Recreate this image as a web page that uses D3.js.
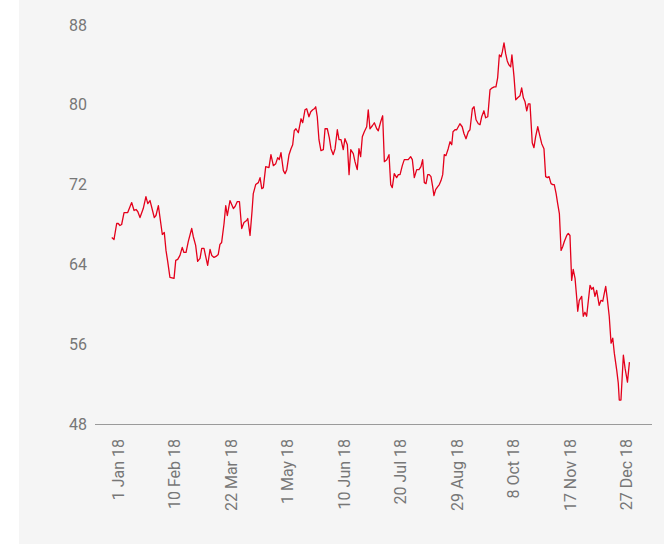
<!DOCTYPE html>
<html>
<head>
<meta charset="utf-8">
<script src="https://cdn.jsdelivr.net/npm/d3@7"></script>
<style>
  body { margin: 0; background: #fff; }
  svg { display: block; font-family: Roboto, sans-serif; }
</style>
</head>
<body>
<svg></svg>
<script>
// days since 1 Jan 2018
const days = [-2.3, -0.7, 1.2, 2.3, 3.5, 4.7, 6.4, 9.0, 11.8, 13.5, 14.9, 16.1, 17.7, 20.0, 21.9, 23.2, 24.8, 27.8, 29.0, 30.7,
  33.5, 34.9, 36.1, 37.3, 38.9, 41.8, 43.0, 44.4, 46.0, 47.6, 48.8, 50.3, 51.9, 54.3, 55.4, 57.1, 58.5, 60.2, 61.4, 63.0,
  64.2, 65.6, 67.3, 68.5, 70.1, 71.5, 73.1, 74.3, 75.5, 77.2, 78.4, 79.5, 81.4, 83.8, 85.0, 86.6, 88.1, 89.7, 91.3, 93.2,
  94.0, 95.6, 97.0, 97.9, 99.6, 101.5, 102.7, 103.9, 105.0, 106.7, 109.0, 110.4, 112.1, 113.8, 115.2, 116.3, 117.5, 119.2, 120.4, 121.6,
  123.2, 124.6, 125.8, 126.9, 128.1, 129.8, 131.7, 132.9, 134.5, 135.7, 137.3, 138.6, 140.0, 141.1, 142.1, 143.2, 144.4, 145.8, 147.5, 148.7,
  150.3, 151.7, 152.9, 154.5, 155.8, 157.4, 158.6, 160.0, 161.6, 162.8, 164.5, 165.7, 166.9, 168.7, 169.9, 171.5, 172.7, 173.9, 175.1, 176.5,
  178.2, 179.3, 180.5, 182.2, 183.6, 185.3, 186.4, 188.1, 189.5, 190.7, 192.4, 194.0, 195.2, 196.3, 197.7, 199.4, 200.6, 201.8, 203.4, 204.8,
  206.0, 207.6, 209.3, 210.5, 211.9, 213.6, 215.2, 216.6, 217.8, 219.0, 220.2, 221.4, 222.5, 223.7, 224.9, 225.8, 227.0, 228.5, 229.6, 230.8,
  232.0, 233.1, 234.3, 235.9, 237.2, 238.4, 239.3, 240.7, 241.9, 244.2, 245.8, 247.1, 248.5, 250.1, 251.3, 253.0, 254.2, 255.6, 257.2, 258.4,
  259.6, 261.2, 262.4, 263.9, 265.5, 267.1, 268.5, 269.7, 270.9, 272.1, 273.3, 274.2, 275.4, 276.6, 277.7, 278.9, 280.1, 281.0, 282.5, 283.7,
  285.1, 286.7, 287.9, 289.1, 290.3, 291.5, 292.6, 293.8, 295.4, 296.6, 297.8, 299.3, 300.4, 302.1, 303.7, 304.9, 306.1, 307.3, 308.7, 309.9,
  311.0, 312.3, 313.4, 314.6, 315.8, 317.0, 318.1, 319.8, 320.9, 322.1, 323.3, 324.4, 325.7, 326.9, 327.6, 328.7, 330.4, 331.5, 332.7, 333.9,
  336.3, 337.5, 338.6, 339.8, 341.0, 342.8, 344.1, 345.3, 346.4, 347.4, 348.5, 349.9, 351.2, 352.4, 353.5, 355.2, 356.3, 357.0, 358.2, 359.9,
  361.1, 362.8, 364.2];

const prices = [66.7, 66.5, 68.1, 68.1, 67.9, 68.0, 69.2, 69.2, 70.2, 69.4, 69.5, 69.3, 68.7, 69.6, 70.8, 70.1, 70.4, 68.7, 68.9, 69.9,
  67.0, 67.2, 65.4, 64.3, 62.7, 62.6, 64.4, 64.5, 64.9, 65.7, 65.2, 65.2, 66.3, 67.6, 66.8, 65.9, 64.3, 64.6, 65.6, 65.6,
  64.8, 63.9, 65.5, 64.9, 64.7, 64.8, 65.0, 66.0, 66.2, 68.1, 69.9, 68.9, 70.4, 69.6, 69.8, 70.3, 70.3, 67.6, 68.2, 68.4,
  68.6, 66.9, 69.3, 71.1, 72.0, 72.2, 72.7, 71.6, 71.7, 73.8, 73.7, 75.0, 73.9, 74.1, 74.7, 74.5, 75.2, 73.4, 73.1, 73.5,
  75.0, 75.6, 76.0, 77.4, 77.6, 77.2, 78.6, 78.2, 79.5, 79.6, 78.8, 79.3, 79.5, 79.6, 79.8, 78.8, 76.5, 75.4, 75.5, 77.6,
  77.6, 76.7, 75.6, 75.0, 75.6, 77.5, 76.5, 76.5, 75.5, 76.6, 76.0, 73.0, 75.5, 75.1, 74.3, 73.5, 75.6, 74.8, 76.8, 77.3,
  77.8, 79.5, 77.6, 77.9, 78.2, 77.6, 77.4, 78.3, 78.9, 74.3, 74.5, 75.0, 72.0, 71.7, 73.1, 72.7, 73.0, 73.0, 73.9, 74.5,
  74.5, 74.5, 74.8, 74.5, 72.7, 73.5, 73.5, 73.8, 74.5, 72.2, 72.1, 73.0, 73.0, 72.8, 71.8, 70.9, 71.5, 71.8, 72.0, 72.4,
  73.0, 75.0, 74.9, 75.6, 76.3, 76.0, 77.3, 77.5, 77.5, 78.1, 77.8, 77.1, 76.6, 77.3, 77.5, 79.6, 79.8, 78.5, 78.1, 78.0,
  78.8, 79.4, 78.7, 78.8, 81.5, 81.7, 81.8, 81.8, 82.7, 85.0, 84.8, 85.3, 86.2, 85.1, 84.4, 84.0, 83.8, 85.0, 82.8, 80.5,
  80.7, 80.9, 81.7, 80.7, 80.3, 79.4, 80.1, 80.1, 76.2, 75.7, 76.8, 77.8, 77.1, 76.1, 75.6, 72.8, 72.7, 72.8, 72.1, 72.0,
  72.0, 71.1, 70.1, 69.1, 65.4, 65.8, 66.3, 66.9, 67.1, 66.9, 62.4, 63.5, 62.6, 60.6, 59.3, 60.4, 60.8, 58.8, 59.2, 58.8,
  61.9, 61.5, 61.7, 60.8, 61.4, 59.9, 60.4, 60.3, 61.1, 61.8, 60.6, 58.8, 56.1, 56.6, 55.1, 53.4, 52.1, 50.4, 50.4, 54.9,
  53.6, 52.2, 54.2];

const tickDays = [0, 40, 80, 120, 160, 200, 240, 280, 320, 360];
const tickLabels = ["1 Jan 18", "10 Feb 18", "22 Mar 18", "1 May 18", "10 Jun 18",
  "20 Jul 18", "29 Aug 18", "8 Oct 18", "17 Nov 18", "27 Dec 18"];
const yTicks = [48, 56, 64, 72, 80, 88];

const W = 664, H = 544;
const svg = d3.select("svg").attr("width", W).attr("height", H);

// light grey panel
svg.append("rect")
  .attr("x", 19).attr("y", 0)
  .attr("width", W - 19).attr("height", H)
  .attr("fill", "#f5f5f5");

const x = d3.scaleLinear().domain([0, 360]).range([115, 623.5]);
const y = d3.scaleLinear().domain([48, 88]).range([424, 25]);

// baseline
svg.append("line")
  .attr("x1", 95).attr("x2", 652)
  .attr("y1", y(48) + 0.5).attr("y2", y(48) + 0.5)
  .attr("stroke", "#9a9a9a")
  .attr("stroke-width", 1.2);

// y labels
svg.append("g")
  .selectAll("text")
  .data(yTicks)
  .enter()
  .append("text")
  .attr("x", 87)
  .attr("y", (d) => y(d))
  .attr("dy", "0.35em")
  .attr("text-anchor", "end")
  .attr("font-size", "16px")
  .attr("fill", "#777")
  .text((d) => d);

// x axis
const xAxis = svg.append("g")
  .attr("transform", `translate(0, ${y(48)})`)
  .call(d3.axisBottom(x).tickValues(tickDays).tickFormat((d, i) => tickLabels[i]).tickSize(0));

xAxis.select(".domain").remove();
xAxis.selectAll("text")
  .attr("transform", "rotate(-90)")
  .attr("x", -15)
  .attr("y", 0)
  .attr("dy", "0.5em")
  .style("text-anchor", "end")
  .attr("font-size", "16px")
  .attr("font-family", "Roboto, sans-serif")
  .attr("fill", "#777");

// price line
const points = days.map((d, i) => [d, prices[i]]);
svg.append("path")
  .datum(points)
  .attr("fill", "none")
  .attr("stroke", "#e4001b")
  .attr("stroke-width", 1.3)
  .attr("stroke-linejoin", "round")
  .attr("d", d3.line().x((d) => x(d[0])).y((d) => y(d[1])));
</script>
</body>
</html>
